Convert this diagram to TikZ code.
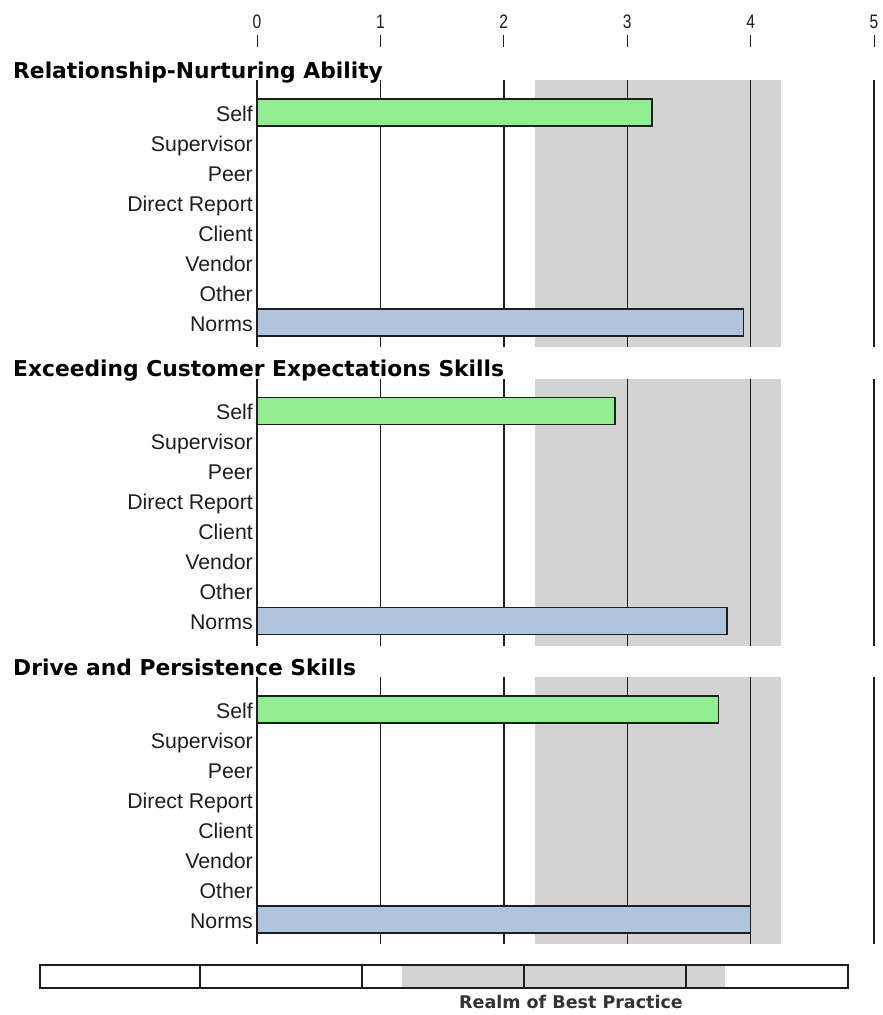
\documentclass[tikz,border=0pt]{standalone}
\usepackage{fontspec}
\usepackage{graphicx}
\setmainfont{Liberation Sans}
\newfontfamily\headfont{DejaVu Sans}
\definecolor{selfgreen}{HTML}{90EE90}
\definecolor{normblue}{HTML}{B0C4DE}
\definecolor{bandgray}{HTML}{D3D3D3}
\definecolor{linecol}{HTML}{1E1E1E}
\begin{document}
\begin{tikzpicture}[x=1pt,y=-1pt,
  lab/.style={anchor=base east,inner sep=0pt,font=\fontsize{21.3}{24}\selectfont,text=linecol},
  ttl/.style={anchor=base west,inner sep=0pt,font=\headfont\bfseries\fontsize{21.8}{25}\selectfont,text=black},
  ticklab/.style={anchor=south,inner sep=0pt,font=\fontsize{19.5}{22}\selectfont,text=linecol},
  gridline/.style={line width=1.4pt,draw=linecol},
  tickmark/.style={line width=1pt,draw=linecol},
  band/.style={fill=bandgray},
  selfbar/.style={fill=selfgreen,draw=linecol,line width=1.4pt},
  normbar/.style={fill=normblue,draw=linecol,line width=1.4pt},
  legbox/.style={draw=linecol,line width=1.4pt},
  legtext/.style={inner sep=0pt,font=\headfont\bfseries\fontsize{17.5}{20}\selectfont,text=black!80}]
\useasboundingbox (0,0) rectangle (883,1015);
\fill[white] (0,0) rectangle (883,1015);
% axis ticks
\foreach \k in {0,...,5}{
  \pgfmathsetmacro{\xx}{257+123.4*\k}
  \node[ticklab] (tick\k) at (\xx,29) {\scalebox{0.8}[1]{\k}};
  \draw[tickmark] (\xx,35) -- (\xx,47);
}
% sections
\foreach \i/\top/\ttltext/\sv/\nv in {1/80/{Relationship-Nurturing Ability}/3.2/3.94,
    2/378.5/{Exceeding Customer Expectations Skills}/2.9/3.81,
    3/677/{Drive and Persistence Skills}/3.74/4.0}{
  \node[ttl] (title\i) at (13,\top-2) {\ttltext};
  \fill[band] (535,\top) rectangle (781,\top+267);
  \foreach \k in {0,...,5}{
    \pgfmathsetmacro{\xx}{257+123.4*\k}
    \draw[gridline] (\xx,\top) -- (\xx,\top+267);
  }
  \pgfmathsetmacro{\se}{257+123.4*\sv}
  \pgfmathsetmacro{\ne}{257+123.4*\nv}
  \draw[selfbar] (257,\top+19) rectangle (\se,\top+46);
  \draw[normbar] (257,\top+229) rectangle (\ne,\top+256);
  \foreach \lbl [count=\j from 0] in {Self,Supervisor,Peer,Direct Report,Client,Vendor,Other,Norms}{
    \node[lab] (lab\i-\j) at (253,\top+41+30*\j) {\lbl};
  }
}
% legend
\fill[white] (40,965) rectangle (848,988);
\fill[band] (402,965) rectangle (725,988);
\foreach \xx in {200,362,524,686}{
  \draw[gridline] (\xx,965) -- (\xx,988);
}
\draw[legbox] (40,965) rectangle (848,988);
\node[legtext] (realm) at (571,1002) {Realm of Best Practice};
\end{tikzpicture}
\end{document}
